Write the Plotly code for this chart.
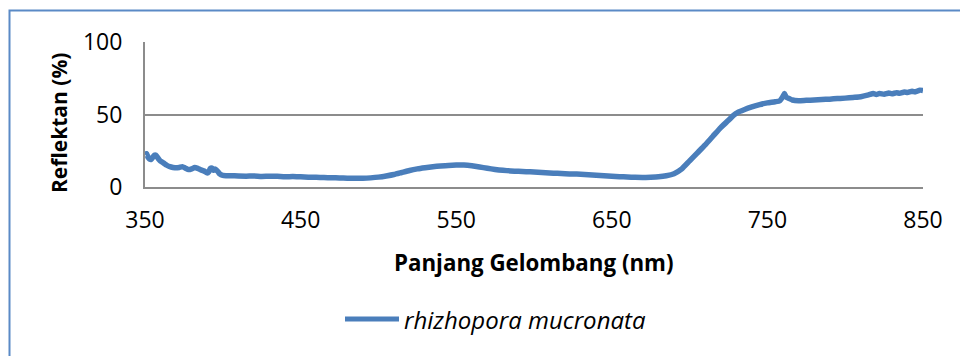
import plotly.graph_objects as go

# Wavelength (nm) and reflectance (%)
wavelength = [350, 351, 352, 353, 354, 355, 356, 357, 358, 359, 360, 362, 364, 366, 368, 370,
              372, 374, 376, 378, 380, 382, 384, 386, 388, 390, 391, 392, 393, 394, 395, 396,
              397, 398, 400, 402, 405, 410, 415, 420, 425, 430, 435, 440, 445, 450, 455, 460,
              465, 470, 475, 480, 485, 490, 495, 500, 505, 510, 515, 520, 525, 530, 535, 540,
              545, 550, 555, 560, 565, 570, 575, 580, 585, 590, 595, 600, 605, 610, 615, 620,
              625, 630, 635, 640, 645, 650, 655, 660, 665, 670, 675, 680, 685, 690, 695, 700,
              705, 710, 715, 720, 725, 728, 731, 735, 740, 745, 750, 755, 758, 760, 761, 762, 764,
              766, 770, 775, 780, 785, 790, 795, 800, 805, 810, 815, 818, 820, 822, 825, 828,
              830, 833, 835, 838, 840, 843, 845, 848, 850]
reflectance = [22.5, 23.0, 20.5, 19.2, 19.0, 20.5, 22.0, 22.0, 20.5, 19.0, 17.8, 16.5, 15.0, 14.0, 13.5, 13.2,
               13.5, 14.0, 13.0, 12.0, 12.5, 13.5, 12.8, 11.8, 11.0, 9.6, 10.5, 12.8, 13.0, 11.5, 12.5, 11.5,
               10.5, 9.0, 8.0, 7.8, 7.8, 7.6, 7.5, 7.6, 7.3, 7.5, 7.4, 7.1, 7.2, 7.0, 6.8, 6.7,
               6.5, 6.4, 6.2, 6.1, 6.0, 6.0, 6.3, 6.8, 7.6, 8.6, 10.0, 11.4, 12.5, 13.3, 14.0, 14.5,
               14.9, 15.1, 15.1, 14.6, 13.8, 12.9, 12.1, 11.5, 11.1, 10.8, 10.6, 10.3, 10.0, 9.7, 9.4, 9.1,
               9.0, 8.8, 8.5, 8.1, 7.7, 7.4, 7.1, 6.9, 6.7, 6.6, 6.8, 7.1, 7.8, 9.2, 12.5, 18.0,
               23.5, 29.0, 35.0, 41.0, 46.0, 49.2, 51.5, 53.3, 55.2, 56.8, 58.0, 58.8, 59.5, 62.5, 64.5, 62.0, 61.0,
               60.0, 59.5, 59.8, 60.0, 60.3, 60.6, 61.0, 61.3, 61.8, 62.3, 63.5, 64.5, 63.8, 64.5, 64.0, 64.8,
               64.3, 65.0, 64.6, 65.5, 65.2, 66.0, 65.6, 66.8, 66.5]

series_name = "rhizhopora mucronata"
x_ticks = [350, 450, 550, 650, 750, 850]
y_ticks = [0, 50, 100]
x_title = "Panjang Gelombang (nm)"
y_title = "Reflektan (%)"

LINE_COLOR = "#4a7ebb"
GRID = "#8c8c8c"
FONT = "Open Sans"

W, H = 960, 356
L, R, T, B = 145, 37, 42, 169
pw, ph = W - L - R, H - T - B

def px(x):
    return (x - L) / pw

def py(y):
    return (H - B - y) / ph

fig = go.Figure()
fig.add_trace(go.Scatter(x=wavelength, y=reflectance, mode="lines", name=series_name,
                         line=dict(color=LINE_COLOR, width=5.5, shape="spline", smoothing=0.5),
                         showlegend=False))

fig.update_layout(
    width=W, height=H,
    margin=dict(l=L, r=R, t=T, b=B),
    paper_bgcolor="white", plot_bgcolor="white",
    font=dict(family=FONT, size=23, color="black"),
    xaxis=dict(range=[350, 850], tickvals=x_ticks, showgrid=False, zeroline=False,
               showline=True, linecolor=GRID, linewidth=2,
               ticks="outside", ticklen=11, tickcolor="rgba(0,0,0,0)",
               tickfont=dict(size=23)),
    yaxis=dict(range=[0, 100], tickvals=y_ticks, showgrid=True, gridcolor=GRID, gridwidth=2,
               zeroline=False, showline=True, linecolor=GRID, linewidth=2,
               ticks="outside", ticklen=16, tickcolor="rgba(0,0,0,0)",
               tickfont=dict(size=23)),
    shapes=[
        dict(type="rect", xref="paper", yref="paper",
             x0=px(9.5), x1=px(990), y0=py(400), y1=py(10.5),
             line=dict(color="#5a8ac6", width=2), fillcolor="rgba(0,0,0,0)", layer="below"),
        dict(type="line", xref="paper", yref="paper",
             x0=px(345), x1=px(399), y0=py(319), y1=py(319),
             line=dict(color=LINE_COLOR, width=5)),
    ],
    annotations=[
        dict(text="<b>%s</b>" % y_title, xref="paper", yref="paper", x=px(59), y=py(123),
             textangle=-90, showarrow=False, font=dict(size=21), xanchor="center", yanchor="middle"),
        dict(text="<b>%s</b>" % x_title, xref="paper", yref="paper", x=px(534), y=py(262),
             showarrow=False, font=dict(size=22.3), xanchor="center", yanchor="middle"),
        dict(text="<i>%s</i>" % series_name, xref="paper", yref="paper", x=px(402), y=py(319),
             showarrow=False, font=dict(size=24), xanchor="left", yanchor="middle"),
    ],
)

fig.write_html("out.html")
